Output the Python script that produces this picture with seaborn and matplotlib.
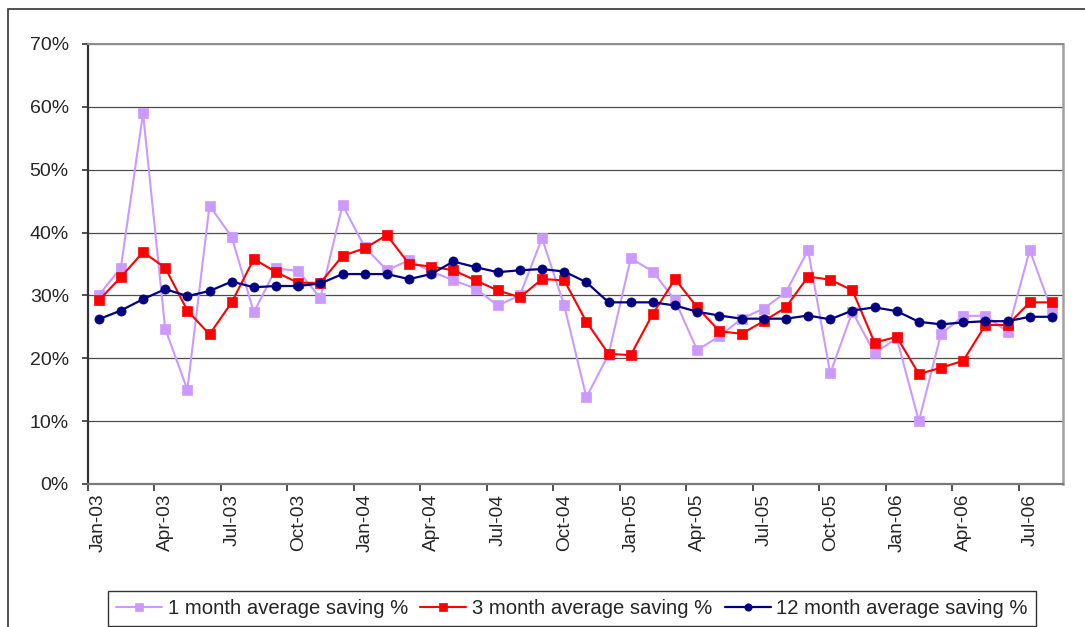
import numpy as np
import pandas as pd
import matplotlib
matplotlib.use("Agg")
import matplotlib.pyplot as plt
from matplotlib.patches import Rectangle
from matplotlib.ticker import FixedLocator, FuncFormatter
import seaborn as sns

# Monthly series, Jan-03 .. Aug-06 (values in %)
months = ["Jan-03", "Feb-03", "Mar-03", "Apr-03", "May-03", "Jun-03", "Jul-03", "Aug-03",
          "Sep-03", "Oct-03", "Nov-03", "Dec-03", "Jan-04", "Feb-04", "Mar-04", "Apr-04",
          "May-04", "Jun-04", "Jul-04", "Aug-04", "Sep-04", "Oct-04", "Nov-04", "Dec-04",
          "Jan-05", "Feb-05", "Mar-05", "Apr-05", "May-05", "Jun-05", "Jul-05", "Aug-05",
          "Sep-05", "Oct-05", "Nov-05", "Dec-05", "Jan-06", "Feb-06", "Mar-06", "Apr-06",
          "May-06", "Jun-06", "Jul-06", "Aug-06"]

one_month = [30.0, 34.4, 59.0, 24.7, 15.0, 44.3, 39.3, 27.3, 34.3, 33.9, 29.6,
             44.4, 37.7, 34.0, 35.6, 33.8, 32.4, 31.1, 28.4, 30.0, 39.1, 28.4,
             13.8, 20.6, 35.9, 33.8, 29.2, 21.3, 23.5, 26.3, 27.9, 30.5, 37.2,
             17.6, 27.4, 20.8, 23.2, 10.0, 23.9, 26.7, 26.8, 24.2, 37.2, 27.5]

three_month = [29.2, 32.9, 36.9, 34.4, 27.6, 23.8, 28.9, 35.8, 33.7, 32.0, 32.0,
               36.3, 37.5, 39.6, 35.0, 34.6, 34.0, 32.4, 30.8, 29.7, 32.6, 32.4,
               25.8, 20.7, 20.5, 27.1, 32.6, 28.1, 24.3, 23.9, 25.9, 28.1, 33.0,
               32.5, 30.8, 22.5, 23.4, 17.5, 18.5, 19.6, 25.3, 25.3, 28.9, 28.9]

twelve_month = [26.2, 27.6, 29.4, 31.0, 29.9, 30.7, 32.2, 31.3, 31.5, 31.5, 31.9,
                33.4, 33.4, 33.4, 32.6, 33.4, 35.4, 34.5, 33.7, 34.0, 34.2, 33.8,
                32.1, 28.9, 28.9, 28.9, 28.4, 27.4, 26.8, 26.3, 26.3, 26.3, 26.8,
                26.2, 27.6, 28.1, 27.5, 25.8, 25.4, 25.7, 25.9, 25.9, 26.6, 26.6]

series_names = ["1 month average saving %", "3 month average saving %", "12 month average saving %"]
y_ticks = [0, 10, 20, 30, 40, 50, 60, 70]

sns.set_style("white")
plt.rcParams["font.family"] = ["Liberation Sans", "DejaVu Sans"]

W, H = 1085, 627
fig = plt.figure(figsize=(W / 100, H / 100), dpi=100)
ax = fig.add_axes([87.6 / W, 1 - 484 / H, (1063 - 87.6) / W, (484 - 44) / H])

idx = np.arange(len(months))
df = pd.DataFrame({
    "idx": np.tile(idx, 3),
    "value": one_month + three_month + twelve_month,
    "series": np.repeat(series_names, len(months)),
})

styles = {
    series_names[0]: dict(color="#CC99FF", marker="s", ms=6.8, lw=1.5),
    series_names[1]: dict(color="#FF0000", marker="s", ms=6.8, lw=1.5),
    series_names[2]: dict(color="#000080", marker="o", ms=6.6, lw=1.6),
}
for name in series_names:
    st = styles[name]
    sns.lineplot(data=df[df["series"] == name], x="idx", y="value", ax=ax,
                 color=st["color"], marker=st["marker"], markersize=st["ms"],
                 markeredgecolor=st["color"], markeredgewidth=0.5,
                 linewidth=st["lw"], label=name, legend=False, zorder=3)

# axes limits, grid and ticks
ax.set_xlim(-0.5, len(months) - 0.5)
ax.set_ylim(0, 70)
ax.set_xlabel("")
ax.set_ylabel("")

ax.yaxis.set_major_locator(FixedLocator(y_ticks))
ax.yaxis.set_major_formatter(FuncFormatter(lambda v, p: f"{v:.0f}%"))
ax.grid(axis="y", color="#4d4d4d", linewidth=0.9, zorder=0)
ax.set_axisbelow(True)

label_pos = idx[::3]
ax.set_xticks(label_pos)
ax.set_xticklabels([months[i] for i in label_pos], rotation=90)
ax.set_xticks(np.arange(-0.5, len(months) - 0.5, 3), minor=True)
ax.tick_params(axis="x", which="major", length=0, pad=7, labelsize=13.8)
ax.tick_params(axis="x", which="minor", direction="out", length=5, width=1.2, color="#333333", bottom=True)
ax.tick_params(axis="y", which="major", direction="out", length=4.5, width=1.2, color="#333333",
               pad=9, labelsize=14, left=True)

for side, col, lw in [("left", "#333333", 1.6), ("bottom", "#7a7a7a", 1.6),
                      ("top", "#8c8c8c", 1.4), ("right", "#a0a0a0", 1.8)]:
    ax.spines[side].set_visible(True)
    ax.spines[side].set_color(col)
    ax.spines[side].set_linewidth(lw)

# outer chart border
fig.add_artist(Rectangle((8 / W, -0.05), 1.2, 1 - 9 / H + 0.05, transform=fig.transFigure,
                         fill=False, edgecolor="#333333", linewidth=1.2))

# legend
handles, labels = ax.get_legend_handles_labels()
leg = fig.legend(handles, labels, loc="upper left", bbox_to_anchor=(108 / W, 1 - 591 / H),
                 bbox_transform=fig.transFigure, ncol=3, frameon=True, fancybox=False,
                 edgecolor="#000000", fontsize=14.6, handlelength=2.27, handletextpad=0.27,
                 columnspacing=0.62, borderpad=0.4, borderaxespad=0, markerscale=0.8)
leg.get_frame().set_linewidth(1.0)

fig.savefig("out.png", dpi=100)
